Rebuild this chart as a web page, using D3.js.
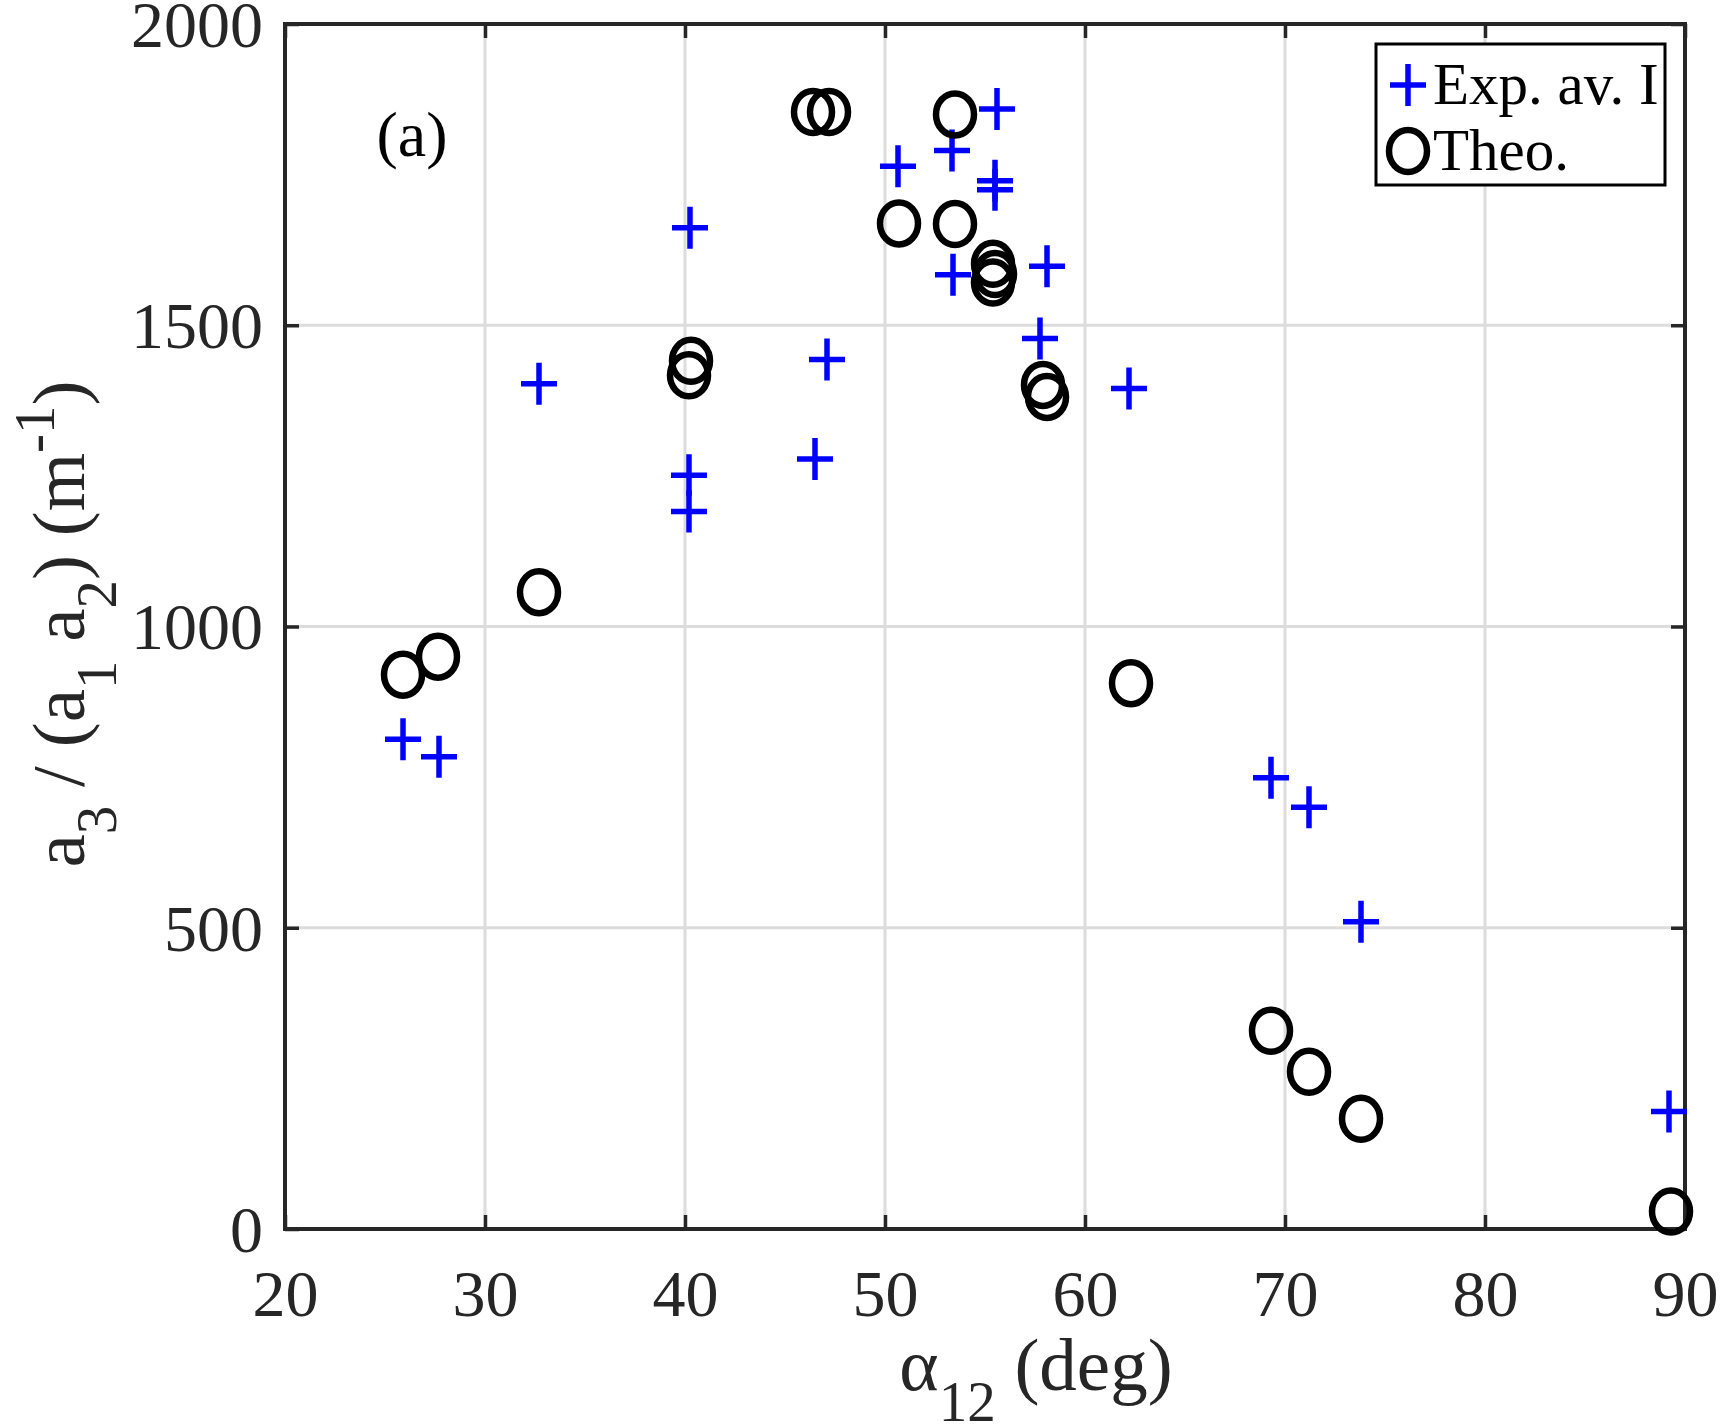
<!DOCTYPE html>
<html>
<head>
<meta charset="utf-8">
<script src="https://cdn.jsdelivr.net/npm/d3@7"></script>
<style>
  body { margin: 0; background: #fff; }
  text { font-family: 'Liberation Serif', 'Times New Roman', serif; }
</style>
</head>
<body>
<div id="chart"></div>
<script>
// experimental averages (blue plus)
const expAngle = [25.9, 27.7, 32.7, 40.25, 40.2, 40.2, 46.5, 47.1, 50.65, 53.35, 53.4, 55.6, 55.5, 55.5, 58.1, 57.75, 62.2, 69.3, 71.2, 73.8, 89.2];
const expValue = [813, 784, 1403, 1662, 1251, 1191, 1278, 1443, 1764, 1790, 1584, 1859, 1740, 1725, 1598, 1478, 1395, 749, 700, 510, 195];

// theoretical values (black circles)
const theoAngle = [25.9, 27.65, 32.7, 40.3, 40.2, 46.4, 47.2, 53.5, 50.7, 53.5, 55.4, 55.4, 55.5, 57.9, 58.1, 62.3, 69.3, 71.2, 73.8, 89.3];
const theoValue = [920, 950, 1057, 1441, 1417, 1854, 1854, 1850, 1669, 1668, 1602, 1571, 1585, 1401, 1381, 906, 329, 261, 183, 29];

const xTicks = [20, 30, 40, 50, 60, 70, 80, 90];
const yTicks = [0, 500, 1000, 1500, 2000];

const width = 1725;
const height = 1428;
const plotLeft = 285, plotRight = 1685, plotTop = 24, plotBottom = 1229;
const axisColour = '#262626';
const tickFont = 66;
const labelFont = 75;
const subFont = 57;

const x = d3.scaleLinear().domain([20, 90]).range([plotLeft, plotRight]);
const y = d3.scaleLinear().domain([0, 2000]).range([plotBottom, plotTop]);

const svg = d3
  .select('#chart')
  .append('svg')
  .attr('width', width)
  .attr('height', height);

// grid
svg
  .append('g')
  .selectAll('line')
  .data(xTicks.slice(1, -1))
  .enter()
  .append('line')
  .attr('x1', d => x(d))
  .attr('x2', d => x(d))
  .attr('y1', plotTop)
  .attr('y2', plotBottom)
  .attr('stroke', '#dcdcdc')
  .attr('stroke-width', 3);

svg
  .append('g')
  .selectAll('line')
  .data(yTicks.slice(1, -1))
  .enter()
  .append('line')
  .attr('x1', plotLeft)
  .attr('x2', plotRight)
  .attr('y1', d => y(d))
  .attr('y2', d => y(d))
  .attr('stroke', '#dcdcdc')
  .attr('stroke-width', 3);

// axes, ticks pointing inward on all four sides
const tickLen = 14;
function styleAxis(g, showLabels) {
  g.select('.domain').remove();
  g.selectAll('.tick line').attr('stroke', axisColour).attr('stroke-width', 3.5);
  g.selectAll('.tick text')
    .attr('fill', axisColour)
    .style('font-size', tickFont + 'px')
    .style('visibility', showLabels ? 'visible' : 'hidden');
}

svg
  .append('g')
  .attr('transform', `translate(0,${plotBottom})`)
  .call(d3.axisBottom(x).tickValues(xTicks).tickSizeInner(-tickLen).tickSizeOuter(0).tickPadding(40))
  .call(g => styleAxis(g, true))
  .call(g => g.selectAll('.tick text').attr('dy', '0.71em'));

svg
  .append('g')
  .attr('transform', `translate(0,${plotTop})`)
  .call(d3.axisTop(x).tickValues(xTicks).tickSizeInner(-tickLen).tickSizeOuter(0))
  .call(g => styleAxis(g, false));

svg
  .append('g')
  .attr('transform', `translate(${plotLeft},0)`)
  .call(d3.axisLeft(y).tickValues(yTicks).tickFormat(d3.format('d')).tickSizeInner(-tickLen).tickSizeOuter(0).tickPadding(22))
  .call(g => styleAxis(g, true))
  .call(g => g.selectAll('.tick text').attr('dy', '0.34em'));

svg
  .append('g')
  .attr('transform', `translate(${plotRight},0)`)
  .call(d3.axisRight(y).tickValues(yTicks).tickSizeInner(-tickLen).tickSizeOuter(0))
  .call(g => styleAxis(g, false));

svg
  .append('rect')
  .attr('x', plotLeft)
  .attr('y', plotTop)
  .attr('width', plotRight - plotLeft)
  .attr('height', plotBottom - plotTop)
  .attr('fill', 'none')
  .attr('stroke', axisColour)
  .attr('stroke-width', 4);

// markers
const plusPath = 'M-18,0H18M0,-21V21';

svg
  .append('g')
  .selectAll('path')
  .data(expAngle.map((a, i) => [a, expValue[i]]))
  .enter()
  .append('path')
  .attr('d', plusPath)
  .attr('transform', d => `translate(${x(d[0])},${y(d[1])})`)
  .attr('stroke', '#0000ff')
  .attr('stroke-width', 5.5)
  .attr('fill', 'none');

svg
  .append('g')
  .selectAll('ellipse')
  .data(theoAngle.map((a, i) => [a, theoValue[i]]))
  .enter()
  .append('ellipse')
  .attr('cx', d => x(d[0]))
  .attr('cy', d => y(d[1]))
  .attr('rx', 19)
  .attr('ry', 21)
  .attr('stroke', '#000')
  .attr('stroke-width', 6.5)
  .attr('fill', 'none');

// panel label
svg
  .append('text')
  .text('(a)')
  .attr('x', 412)
  .attr('y', 156)
  .attr('text-anchor', 'middle')
  .style('font-size', '64px');

// legend
const legend = svg.append('g');
legend
  .append('rect')
  .attr('x', 1376)
  .attr('y', 44)
  .attr('width', 289)
  .attr('height', 141)
  .attr('fill', '#fff')
  .attr('stroke', '#000')
  .attr('stroke-width', 3);
legend
  .append('path')
  .attr('d', plusPath)
  .attr('transform', 'translate(1408,85)')
  .attr('stroke', '#0000ff')
  .attr('stroke-width', 5.5);
legend
  .append('ellipse')
  .attr('cx', 1408)
  .attr('cy', 151)
  .attr('rx', 19)
  .attr('ry', 21)
  .attr('stroke', '#000')
  .attr('stroke-width', 6.5)
  .attr('fill', 'none');
legend
  .append('text')
  .text('Exp. av. I')
  .attr('x', 1433)
  .attr('y', 104)
  .style('font-size', '59px');
legend
  .append('text')
  .text('Theo.')
  .attr('x', 1433)
  .attr('y', 170)
  .style('font-size', '59px');

// x axis title
const xTitle = svg
  .append('text')
  .attr('x', 1036)
  .attr('y', 1390)
  .attr('text-anchor', 'middle')
  .attr('fill', axisColour)
  .style('font-size', labelFont + 'px');
xTitle.append('tspan').text('α');
xTitle.append('tspan').attr('dy', 31).style('font-size', subFont + 'px').text('12');
xTitle.append('tspan').attr('dy', -31).text(' (deg)');

// y axis title
const yTitle = svg
  .append('text')
  .attr('transform', 'translate(84,624) rotate(-90)')
  .attr('text-anchor', 'middle')
  .attr('fill', axisColour)
  .style('font-size', labelFont + 'px');
yTitle.append('tspan').text('a');
yTitle.append('tspan').attr('dy', 32).style('font-size', subFont + 'px').text('3');
yTitle.append('tspan').attr('dy', -32).text(' / (a');
yTitle.append('tspan').attr('dy', 32).style('font-size', subFont + 'px').text('1');
yTitle.append('tspan').attr('dy', -32).text(' a');
yTitle.append('tspan').attr('dy', 32).style('font-size', subFont + 'px').text('2');
yTitle.append('tspan').attr('dy', -32).text(') (m');
yTitle.append('tspan').attr('dy', -30).style('font-size', subFont + 'px').text('-1');
yTitle.append('tspan').attr('dy', 30).text(')');
</script>
</body>
</html>
